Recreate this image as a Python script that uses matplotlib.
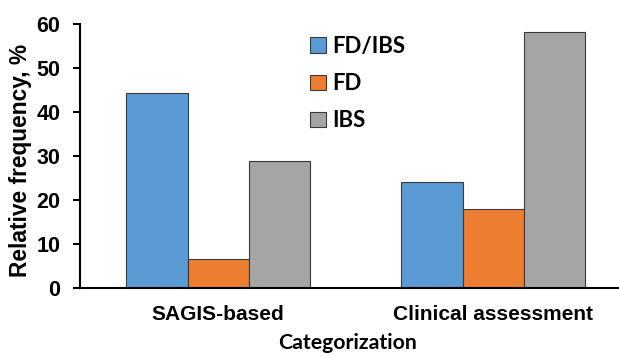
import matplotlib
matplotlib.use("Agg")
import matplotlib.pyplot as plt
import numpy as np

categories = ["SAGIS-based", "Clinical assessment"]
series_names = ["FD/IBS", "FD", "IBS"]
fd_ibs = [44.4, 24.0]
fd = [6.5, 18.0]
ibs = [28.9, 58.1]
yticks = [0, 10, 20, 30, 40, 50, 60]

colors = ["#5B9BD5", "#ED7D31", "#A5A5A5"]

plt.rcParams["font.family"] = "Liberation Sans"
plt.rcParams["font.weight"] = "bold"

fig = plt.figure(figsize=(6.19, 3.56), dpi=100)
ax = fig.add_axes([80/619, 68/356, 1 - 80/619, 264/356])

x = np.arange(len(categories))
w = 0.222
for i, (vals, name) in enumerate(zip([fd_ibs, fd, ibs], series_names)):
    ax.bar(x + (i - 1) * w, vals, w, color=colors[i], edgecolor="#3a3a3a",
           linewidth=0.8, label=name)

ax.set_xlim(-0.502, 1.458)
ax.set_ylim(0, 60)
ax.set_yticks(yticks)
ax.set_xticks(x)
ax.set_xticklabels(categories)
ax.tick_params(axis="x", length=0, pad=12, labelsize=15)
ax.tick_params(axis="y", length=5, width=1.5, pad=9, labelsize=15.5)
for s in ["top", "right"]:
    ax.spines[s].set_visible(False)
for s in ["left", "bottom"]:
    ax.spines[s].set_linewidth(1.5)

fig.text(21/619, 1 - 160/356, "Relative frequency, %", fontsize=16.4,
         fontweight="bold", rotation=90, ha="center", va="center")

fig.text(348/619, 1 - 349/356, "Categorization", fontfamily="Lato", fontweight="bold",
         fontsize=15.3, ha="center", va="baseline")

leg = ax.legend(loc="upper left", bbox_to_anchor=(310/619, 1 - 36/356),
                bbox_transform=fig.transFigure, frameon=False,
                prop={"family": "Lato", "weight": "bold", "size": 16},
                handlelength=0.7, handleheight=0.7, handletextpad=0.3,
                labelspacing=0.73, borderaxespad=0, borderpad=0)

fig.savefig("out.png", dpi=100)
